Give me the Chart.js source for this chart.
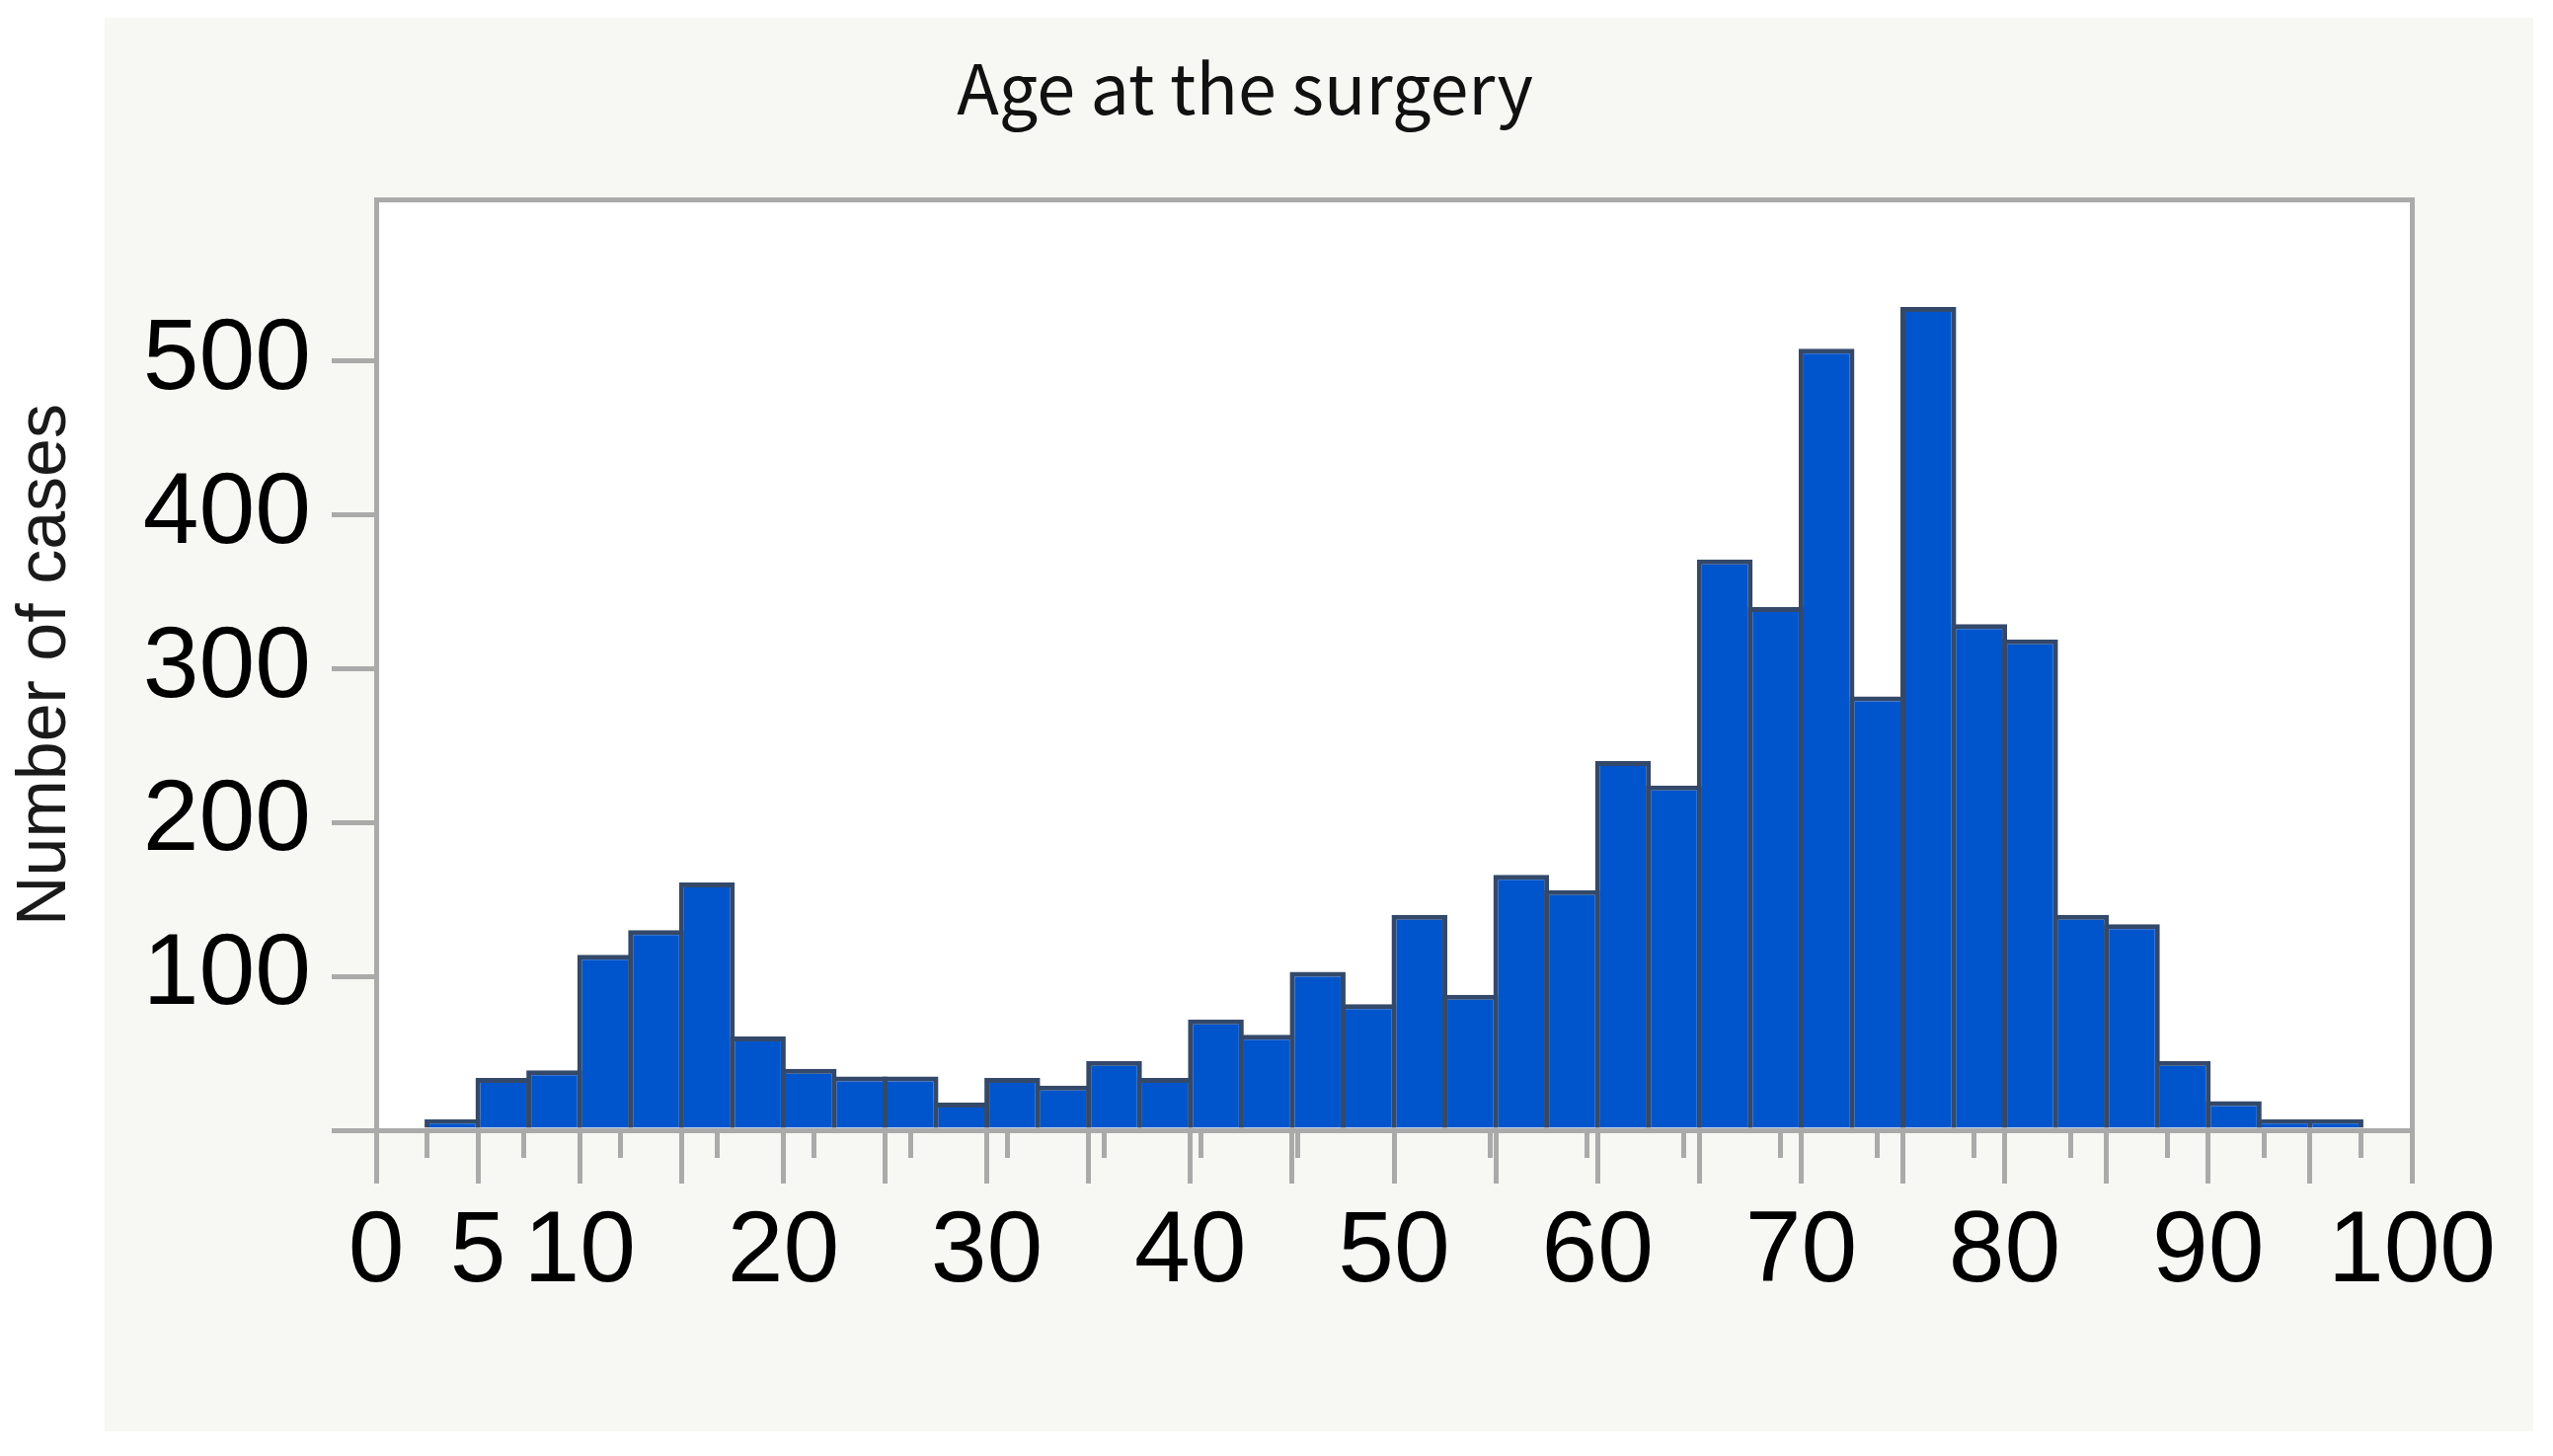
<!DOCTYPE html>
<html>
<head>
<meta charset="utf-8">
<script src="https://cdn.jsdelivr.net/npm/chart.js@4.4.1/dist/chart.umd.min.js"></script>
<style>
  html, body { margin: 0; padding: 0; background: #ffffff; }
  #wrap { position: relative; width: 2586px; height: 1475px; overflow: hidden; }
  #panel { position: absolute; left: 106px; top: 18px; width: 2460px; height: 1432px; background: #f7f7f3; }
  #histChart { position: absolute; left: 0; top: 0; }
</style>
</head>
<body>
<div id="wrap">
  <div id="panel"></div>
  <canvas id="histChart" width="2586" height="1475"></canvas>
</div>
<script>
// age bins (lower edge, years) and number of cases per bin
const binWidth = 2.5
const binStart = [2.5, 5, 7.5, 10, 12.5, 15, 17.5, 20, 22.5, 25, 27.5, 30, 32.5, 35, 37.5,
                  40, 42.5, 45, 47.5, 50, 52.5, 55, 57.5, 60, 62.5, 65, 67.5, 70, 72.5, 75,
                  77.5, 80, 82.5, 85, 87.5, 90, 92.5, 95]
const caseCounts = [7, 34, 39, 114, 130, 161, 61, 40, 35, 35, 18, 34, 29, 45, 34,
                    72, 62, 103, 82, 140, 88, 166, 156, 240, 224, 371, 340, 508, 282, 535,
                    329, 319, 140, 134, 45, 19, 7, 7]

// axis ticks
const xMajorTicks = [0, 5, 10, 15, 20, 25, 30, 35, 40, 45, 50, 55, 60, 65, 70, 75, 80, 85, 90, 95, 100]
const xMinorTicks = [2.5, 7.5, 12.5, 17.5, 22.5, 27.5, 32.5, 37.5, 42.5, 47.5, 52.5, 57.5, 62.5,
                     67.5, 72.5, 77.5, 82.5, 87.5, 92.5, 97.5]
const xTickLabels = [0, 5, 10, 20, 30, 40, 50, 60, 70, 80, 90, 100]
const yTicks = [0, 100, 200, 300, 400, 500]

const frameGray = "#aaaaaa"
const tickFont = { family: "'Liberation Sans Narrow', 'Liberation Sans', Arial, sans-serif", size: 102 }

// white plotting area inside the grey panel
const plotBackground = {
    id: "plotBackground",
    beforeDraw(chart) {
        const { ctx, chartArea } = chart
        ctx.save()
        ctx.fillStyle = "#ffffff"
        ctx.fillRect(chartArea.left, chartArea.top, chartArea.right - chartArea.left, chartArea.bottom - chartArea.top)
        ctx.restore()
    }
}

const ctx = document.getElementById("histChart").getContext("2d")

new Chart(ctx, {
    type: "bar",
    data: {
        datasets: [{
            label: "Number of cases",
            data: binStart.map((s, i) => ({ x: s + binWidth / 2, y: caseCounts[i] })),
            backgroundColor: "#0055cc",
            borderColor: "#34496a",
            borderWidth: 5,
            barPercentage: 1.097,   // let neighbour borders sit on top of each other
            categoryPercentage: 1,
            grouped: false
        }]
    },
    options: {
        responsive: false,
        animation: false,
        devicePixelRatio: 1,
        layout: { padding: { left: 0, right: 64, top: 0, bottom: 130 } },
        plugins: {
            legend: { display: false },
            tooltip: { enabled: false },
            title: {
                display: true,
                text: "Age at the surgery",
                color: "#111111",
                font: { family: "'Noto Sans CJK JP', 'Noto Sans', sans-serif", size: 70, weight: "normal" },
                padding: { top: 47, bottom: 71 }
            }
        },
        scales: {
            x: {
                type: "linear",
                position: "bottom",
                min: 0,
                max: 100,
                offset: false,
                afterBuildTicks: (axis) => { axis.ticks = xMajorTicks.map(v => ({ value: v })) },
                afterFit: (axis) => { axis.height = 200 },
                ticks: {
                    autoSkip: false,
                    maxRotation: 0,
                    padding: 10,
                    color: "#000000",
                    font: tickFont,
                    callback: (v) => xTickLabels.includes(v) ? String(v) : ""
                },
                grid: {
                    offset: false,
                    drawOnChartArea: false,
                    tickLength: 54,
                    lineWidth: 5,
                    color: frameGray
                },
                border: { display: true, width: 5, color: frameGray }
            },
            xMinor: {
                type: "linear",
                axis: "x",
                position: { y: 0 },
                min: 0,
                max: 100,
                afterBuildTicks: (axis) => { axis.ticks = xMinorTicks.map(v => ({ value: v })) },
                ticks: { display: false, autoSkip: false },
                grid: {
                    drawOnChartArea: false,
                    tickLength: 28,
                    lineWidth: 5,
                    color: frameGray
                },
                border: { display: false }
            },
            xTop: {
                type: "linear",
                axis: "x",
                position: "top",
                min: 0,
                max: 100,
                afterFit: (axis) => { axis.height = 0 },
                ticks: { display: false },
                grid: { drawOnChartArea: false, drawTicks: false },
                border: { display: true, width: 5, color: frameGray }
            },
            y: {
                type: "linear",
                position: "left",
                min: 0,
                max: 605,
                afterBuildTicks: (axis) => { axis.ticks = yTicks.map(v => ({ value: v })) },
                afterFit: (axis) => { axis.width = 381 },
                ticks: {
                    padding: 21,
                    color: "#000000",
                    font: tickFont,
                    callback: (v) => v === 0 ? "" : String(v)
                },
                grid: {
                    drawOnChartArea: false,
                    tickLength: 45,
                    lineWidth: 5,
                    color: frameGray
                },
                border: { display: true, width: 5, color: frameGray },
                title: {
                    display: true,
                    text: "Number of cases",
                    color: "#1a1a1a",
                    font: { family: "'Liberation Sans', Arial, sans-serif", size: 70 },
                    padding: { top: 5, bottom: 0 }
                }
            },
            yRight: {
                type: "linear",
                axis: "y",
                position: "right",
                min: 0,
                max: 605,
                afterFit: (axis) => { axis.width = 79 },
                ticks: { display: false },
                grid: { drawOnChartArea: false, drawTicks: false },
                border: { display: true, width: 5, color: frameGray }
            }
        }
    },
    plugins: [plotBackground]
})
</script>
</body>
</html>
